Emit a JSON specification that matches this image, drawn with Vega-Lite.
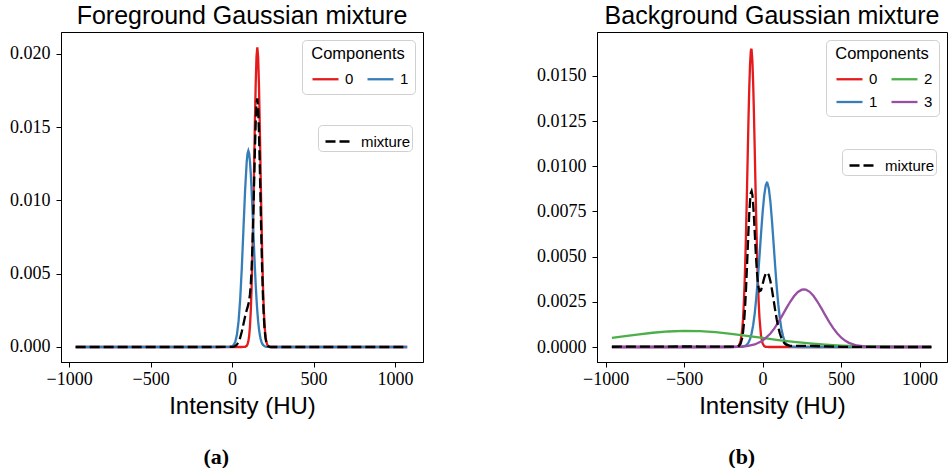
{
  "$schema": "https://vega.github.io/schema/vega-lite/v6.json",
  "padding": {"left": 9, "top": 3, "right": 0, "bottom": 0},
  "background": "white",
  "datasets": {
    "fg": [
      {"x": -960, "y": 0, "s": "0"}, {"x": 0, "y": 0, "s": "0"}, {"x": 50, "y": 0, "s": "0"}, {"x": 60, "y": 0, "s": "0"},
      {"x": 70, "y": 0.0000015, "s": "0"}, {"x": 80, "y": 0.0000125, "s": "0"}, {"x": 90, "y": 0.000079, "s": "0"}, {"x": 95, "y": 0.00018, "s": "0"},
      {"x": 100, "y": 0.000383, "s": "0"}, {"x": 105, "y": 0.000764, "s": "0"}, {"x": 110, "y": 0.001426, "s": "0"}, {"x": 115, "y": 0.002496, "s": "0"},
      {"x": 120, "y": 0.004086, "s": "0"}, {"x": 125, "y": 0.006265, "s": "0"}, {"x": 130, "y": 0.008994, "s": "0"}, {"x": 135, "y": 0.012092, "s": "0"},
      {"x": 140, "y": 0.01522, "s": "0"}, {"x": 145, "y": 0.017939, "s": "0"}, {"x": 150, "y": 0.019799, "s": "0"}, {"x": 155, "y": 0.02046, "s": "0"},
      {"x": 160, "y": 0.019799, "s": "0"}, {"x": 165, "y": 0.017939, "s": "0"}, {"x": 170, "y": 0.01522, "s": "0"}, {"x": 175, "y": 0.012092, "s": "0"},
      {"x": 180, "y": 0.008994, "s": "0"}, {"x": 185, "y": 0.006265, "s": "0"}, {"x": 190, "y": 0.004086, "s": "0"}, {"x": 195, "y": 0.002496, "s": "0"},
      {"x": 200, "y": 0.001426, "s": "0"}, {"x": 205, "y": 0.000764, "s": "0"}, {"x": 210, "y": 0.000383, "s": "0"}, {"x": 215, "y": 0.00018, "s": "0"},
      {"x": 220, "y": 0.000079, "s": "0"}, {"x": 230, "y": 0.0000125, "s": "0"}, {"x": 240, "y": 0, "s": "0"}, {"x": 300, "y": 0, "s": "0"}, {"x": 1075, "y": 0, "s": "0"},

      {"x": -960, "y": 0, "s": "1"}, {"x": -500, "y": 0, "s": "1"}, {"x": -200, "y": 0, "s": "1"}, {"x": -20, "y": 0.000004, "s": "1"},
      {"x": 0, "y": 0.000048, "s": "1"}, {"x": 10, "y": 0.00014, "s": "1"}, {"x": 20, "y": 0.000365, "s": "1"}, {"x": 30, "y": 0.000849, "s": "1"},
      {"x": 40, "y": 0.001765, "s": "1"}, {"x": 50, "y": 0.003277, "s": "1"}, {"x": 60, "y": 0.005439, "s": "1"}, {"x": 70, "y": 0.008068, "s": "1"},
      {"x": 80, "y": 0.010691, "s": "1"}, {"x": 90, "y": 0.012657, "s": "1"}, {"x": 95, "y": 0.013203, "s": "1"}, {"x": 100, "y": 0.01339, "s": "1"},
      {"x": 105, "y": 0.013203, "s": "1"}, {"x": 110, "y": 0.012657, "s": "1"}, {"x": 115, "y": 0.011797, "s": "1"}, {"x": 120, "y": 0.010691, "s": "1"},
      {"x": 125, "y": 0.009418, "s": "1"}, {"x": 130, "y": 0.008068, "s": "1"}, {"x": 135, "y": 0.006718, "s": "1"}, {"x": 140, "y": 0.005439, "s": "1"},
      {"x": 145, "y": 0.004282, "s": "1"}, {"x": 150, "y": 0.003277, "s": "1"}, {"x": 155, "y": 0.002438, "s": "1"}, {"x": 160, "y": 0.001765, "s": "1"},
      {"x": 165, "y": 0.001241, "s": "1"}, {"x": 170, "y": 0.000849, "s": "1"}, {"x": 175, "y": 0.000564, "s": "1"}, {"x": 180, "y": 0.000365, "s": "1"},
      {"x": 185, "y": 0.000229, "s": "1"}, {"x": 190, "y": 0.00014, "s": "1"}, {"x": 200, "y": 0.000048, "s": "1"}, {"x": 210, "y": 0.000015, "s": "1"},
      {"x": 220, "y": 0.0000035, "s": "1"}, {"x": 240, "y": 0, "s": "1"}, {"x": 1075, "y": 0, "s": "1"},

      {"x": -960, "y": 0, "s": "mixture"}, {"x": -500, "y": 0, "s": "mixture"}, {"x": -100, "y": 0, "s": "mixture"}, {"x": -20, "y": 0.000001, "s": "mixture"},
      {"x": 0, "y": 0.0000093, "s": "mixture"}, {"x": 10, "y": 0.0000272, "s": "mixture"}, {"x": 20, "y": 0.0000708, "s": "mixture"}, {"x": 30, "y": 0.000165, "s": "mixture"},
      {"x": 40, "y": 0.000342, "s": "mixture"}, {"x": 50, "y": 0.000636, "s": "mixture"}, {"x": 60, "y": 0.001055, "s": "mixture"}, {"x": 70, "y": 0.001566, "s": "mixture"},
      {"x": 80, "y": 0.002084, "s": "mixture"}, {"x": 90, "y": 0.002519, "s": "mixture"}, {"x": 95, "y": 0.002706, "s": "mixture"}, {"x": 100, "y": 0.002907, "s": "mixture"},
      {"x": 105, "y": 0.003177, "s": "mixture"}, {"x": 110, "y": 0.003604, "s": "mixture"}, {"x": 115, "y": 0.004301, "s": "mixture"}, {"x": 120, "y": 0.005367, "s": "mixture"},
      {"x": 125, "y": 0.006877, "s": "mixture"}, {"x": 130, "y": 0.008814, "s": "mixture"}, {"x": 135, "y": 0.011049, "s": "mixture"}, {"x": 140, "y": 0.013322, "s": "mixture"},
      {"x": 145, "y": 0.01529, "s": "mixture"}, {"x": 150, "y": 0.016594, "s": "mixture"}, {"x": 155, "y": 0.016964, "s": "mixture"}, {"x": 160, "y": 0.0163, "s": "mixture"},
      {"x": 165, "y": 0.0147, "s": "mixture"}, {"x": 170, "y": 0.012432, "s": "mixture"}, {"x": 175, "y": 0.009855, "s": "mixture"}, {"x": 180, "y": 0.00732, "s": "mixture"},
      {"x": 185, "y": 0.005094, "s": "mixture"}, {"x": 190, "y": 0.00332, "s": "mixture"}, {"x": 195, "y": 0.002028, "s": "mixture"}, {"x": 200, "y": 0.001158, "s": "mixture"},
      {"x": 205, "y": 0.000621, "s": "mixture"}, {"x": 210, "y": 0.000312, "s": "mixture"}, {"x": 215, "y": 0.000147, "s": "mixture"}, {"x": 220, "y": 0.000064, "s": "mixture"},
      {"x": 230, "y": 0.00001, "s": "mixture"}, {"x": 240, "y": 0, "s": "mixture"}, {"x": 300, "y": 0, "s": "mixture"}, {"x": 1075, "y": 0, "s": "mixture"}
    ],
    "bg": [
      {"x": -960, "y": 0, "s": "0"}, {"x": -300, "y": 0, "s": "0"}, {"x": -200, "y": 0, "s": "0"}, {"x": -175, "y": 0.000002, "s": "0"},
      {"x": -160, "y": 0.000022, "s": "0"}, {"x": -150, "y": 0.000092, "s": "0"}, {"x": -140, "y": 0.000318, "s": "0"}, {"x": -130, "y": 0.000934, "s": "0"},
      {"x": -125, "y": 0.0015, "s": "0"}, {"x": -120, "y": 0.002308, "s": "0"}, {"x": -115, "y": 0.003404, "s": "0"}, {"x": -110, "y": 0.00481, "s": "0"},
      {"x": -105, "y": 0.006513, "s": "0"}, {"x": -100, "y": 0.00845, "s": "0"}, {"x": -95, "y": 0.010504, "s": "0"}, {"x": -90, "y": 0.012514, "s": "0"},
      {"x": -85, "y": 0.014282, "s": "0"}, {"x": -80, "y": 0.015622, "s": "0"}, {"x": -75, "y": 0.016373, "s": "0"}, {"x": -72, "y": 0.0165, "s": "0"},
      {"x": -70, "y": 0.016444, "s": "0"}, {"x": -65, "y": 0.015824, "s": "0"}, {"x": -60, "y": 0.014591, "s": "0"}, {"x": -55, "y": 0.012893, "s": "0"},
      {"x": -50, "y": 0.010915, "s": "0"}, {"x": -45, "y": 0.008856, "s": "0"}, {"x": -40, "y": 0.006884, "s": "0"}, {"x": -35, "y": 0.005127, "s": "0"},
      {"x": -30, "y": 0.00366, "s": "0"}, {"x": -25, "y": 0.002503, "s": "0"}, {"x": -20, "y": 0.00164, "s": "0"}, {"x": -10, "y": 0.00062, "s": "0"},
      {"x": 0, "y": 0.000197, "s": "0"}, {"x": 10, "y": 0.000053, "s": "0"}, {"x": 20, "y": 0.000012, "s": "0"}, {"x": 30, "y": 0.000002, "s": "0"},
      {"x": 40, "y": 0, "s": "0"}, {"x": 100, "y": 0, "s": "0"}, {"x": 1075, "y": 0, "s": "0"},

      {"x": -960, "y": 0, "s": "1"}, {"x": -300, "y": 0, "s": "1"}, {"x": -200, "y": 0, "s": "1"}, {"x": -150, "y": 0.000002, "s": "1"},
      {"x": -130, "y": 0.000014, "s": "1"}, {"x": -120, "y": 0.00003, "s": "1"}, {"x": -110, "y": 0.000064, "s": "1"}, {"x": -100, "y": 0.000127, "s": "1"},
      {"x": -90, "y": 0.000242, "s": "1"}, {"x": -80, "y": 0.000435, "s": "1"}, {"x": -70, "y": 0.000744, "s": "1"}, {"x": -60, "y": 0.001209, "s": "1"},
      {"x": -50, "y": 0.001864, "s": "1"}, {"x": -40, "y": 0.002727, "s": "1"}, {"x": -30, "y": 0.003787, "s": "1"}, {"x": -20, "y": 0.004992, "s": "1"},
      {"x": -10, "y": 0.006246, "s": "1"}, {"x": 0, "y": 0.007418, "s": "1"}, {"x": 10, "y": 0.008363, "s": "1"}, {"x": 20, "y": 0.00895, "s": "1"},
      {"x": 28, "y": 0.0091, "s": "1"}, {"x": 30, "y": 0.009091, "s": "1"}, {"x": 40, "y": 0.008765, "s": "1"}, {"x": 50, "y": 0.008022, "s": "1"},
      {"x": 60, "y": 0.006969, "s": "1"}, {"x": 70, "y": 0.005746, "s": "1"}, {"x": 80, "y": 0.004498, "s": "1"}, {"x": 90, "y": 0.003342, "s": "1"},
      {"x": 100, "y": 0.002357, "s": "1"}, {"x": 110, "y": 0.001578, "s": "1"}, {"x": 120, "y": 0.001002, "s": "1"}, {"x": 130, "y": 0.000604, "s": "1"},
      {"x": 140, "y": 0.000346, "s": "1"}, {"x": 150, "y": 0.000188, "s": "1"}, {"x": 175, "y": 0.000033, "s": "1"}, {"x": 200, "y": 0.000004, "s": "1"},
      {"x": 250, "y": 0, "s": "1"}, {"x": 1075, "y": 0, "s": "1"},

      {"x": -960, "y": 0.000501, "s": "2"}, {"x": -900, "y": 0.000574, "s": "2"}, {"x": -800, "y": 0.00069, "s": "2"}, {"x": -700, "y": 0.000789, "s": "2"},
      {"x": -600, "y": 0.000859, "s": "2"}, {"x": -500, "y": 0.000889, "s": "2"}, {"x": -400, "y": 0.000876, "s": "2"}, {"x": -300, "y": 0.000821, "s": "2"},
      {"x": -200, "y": 0.000732, "s": "2"}, {"x": -100, "y": 0.000621, "s": "2"}, {"x": 0, "y": 0.000501, "s": "2"}, {"x": 100, "y": 0.000385, "s": "2"},
      {"x": 200, "y": 0.000281, "s": "2"}, {"x": 300, "y": 0.000196, "s": "2"}, {"x": 400, "y": 0.000129, "s": "2"}, {"x": 500, "y": 0.000081, "s": "2"},
      {"x": 600, "y": 0.000049, "s": "2"}, {"x": 700, "y": 0.000028, "s": "2"}, {"x": 800, "y": 0.000015, "s": "2"}, {"x": 900, "y": 0.000008, "s": "2"},
      {"x": 1075, "y": 0.000002, "s": "2"},

      {"x": -960, "y": 0, "s": "3"}, {"x": -400, "y": 0, "s": "3"}, {"x": -200, "y": 0.000003, "s": "3"}, {"x": -150, "y": 0.000014, "s": "3"},
      {"x": -100, "y": 0.000047, "s": "3"}, {"x": -50, "y": 0.000139, "s": "3"}, {"x": 0, "y": 0.000349, "s": "3"}, {"x": 50, "y": 0.000747, "s": "3"},
      {"x": 75, "y": 0.001029, "s": "3"}, {"x": 100, "y": 0.001363, "s": "3"}, {"x": 125, "y": 0.001734, "s": "3"}, {"x": 150, "y": 0.00212, "s": "3"},
      {"x": 175, "y": 0.00249, "s": "3"}, {"x": 200, "y": 0.002809, "s": "3"}, {"x": 225, "y": 0.003046, "s": "3"}, {"x": 250, "y": 0.003173, "s": "3"},
      {"x": 263, "y": 0.00319, "s": "3"}, {"x": 275, "y": 0.003175, "s": "3"}, {"x": 300, "y": 0.003053, "s": "3"}, {"x": 325, "y": 0.002821, "s": "3"},
      {"x": 350, "y": 0.002504, "s": "3"}, {"x": 375, "y": 0.002135, "s": "3"}, {"x": 400, "y": 0.00175, "s": "3"}, {"x": 425, "y": 0.001377, "s": "3"},
      {"x": 450, "y": 0.001042, "s": "3"}, {"x": 475, "y": 0.000757, "s": "3"}, {"x": 500, "y": 0.000529, "s": "3"}, {"x": 525, "y": 0.000355, "s": "3"},
      {"x": 550, "y": 0.000229, "s": "3"}, {"x": 600, "y": 0.000084, "s": "3"}, {"x": 650, "y": 0.000027, "s": "3"}, {"x": 700, "y": 0.000007, "s": "3"},
      {"x": 800, "y": 0, "s": "3"}, {"x": 1075, "y": 0, "s": "3"},

      {"x": -960, "y": 0.000015, "s": "mixture"}, {"x": -900, "y": 0.0000172, "s": "mixture"}, {"x": -800, "y": 0.0000207, "s": "mixture"}, {"x": -700, "y": 0.0000237, "s": "mixture"},
      {"x": -600, "y": 0.0000258, "s": "mixture"}, {"x": -500, "y": 0.0000267, "s": "mixture"}, {"x": -400, "y": 0.0000263, "s": "mixture"}, {"x": -300, "y": 0.0000246, "s": "mixture"},
      {"x": -200, "y": 0.000022, "s": "mixture"}, {"x": -175, "y": 0.000022, "s": "mixture"}, {"x": -160, "y": 0.000032, "s": "mixture"}, {"x": -150, "y": 0.000068, "s": "mixture"},
      {"x": -140, "y": 0.000183, "s": "mixture"}, {"x": -130, "y": 0.000496, "s": "mixture"}, {"x": -125, "y": 0.000784, "s": "mixture"}, {"x": -120, "y": 0.001194, "s": "mixture"},
      {"x": -115, "y": 0.001752, "s": "mixture"}, {"x": -110, "y": 0.002467, "s": "mixture"}, {"x": -105, "y": 0.003336, "s": "mixture"}, {"x": -100, "y": 0.004326, "s": "mixture"},
      {"x": -95, "y": 0.005383, "s": "mixture"}, {"x": -90, "y": 0.006422, "s": "mixture"}, {"x": -85, "y": 0.007351, "s": "mixture"}, {"x": -80, "y": 0.008072, "s": "mixture"},
      {"x": -75, "y": 0.008515, "s": "mixture"}, {"x": -70, "y": 0.008624, "s": "mixture"}, {"x": -65, "y": 0.00841, "s": "mixture"}, {"x": -60, "y": 0.007901, "s": "mixture"},
      {"x": -55, "y": 0.007187, "s": "mixture"}, {"x": -50, "y": 0.006347, "s": "mixture"}, {"x": -45, "y": 0.005499, "s": "mixture"}, {"x": -40, "y": 0.004708, "s": "mixture"},
      {"x": -35, "y": 0.004054, "s": "mixture"}, {"x": -30, "y": 0.003562, "s": "mixture"}, {"x": -25, "y": 0.003247, "s": "mixture"}, {"x": -20, "y": 0.003088, "s": "mixture"},
      {"x": -10, "y": 0.003145, "s": "mixture"}, {"x": 0, "y": 0.003458, "s": "mixture"}, {"x": 10, "y": 0.003812, "s": "mixture"}, {"x": 20, "y": 0.004057, "s": "mixture"},
      {"x": 30, "y": 0.004116, "s": "mixture"}, {"x": 40, "y": 0.003969, "s": "mixture"}, {"x": 50, "y": 0.003637, "s": "mixture"}, {"x": 60, "y": 0.003164, "s": "mixture"},
      {"x": 70, "y": 0.002615, "s": "mixture"}, {"x": 80, "y": 0.002055, "s": "mixture"}, {"x": 90, "y": 0.001537, "s": "mixture"}, {"x": 100, "y": 0.001096, "s": "mixture"},
      {"x": 110, "y": 0.000746, "s": "mixture"}, {"x": 120, "y": 0.00049, "s": "mixture"}, {"x": 130, "y": 0.000313, "s": "mixture"}, {"x": 140, "y": 0.000199, "s": "mixture"},
      {"x": 150, "y": 0.000131, "s": "mixture"}, {"x": 175, "y": 0.0000664, "s": "mixture"}, {"x": 200, "y": 0.000058, "s": "mixture"}, {"x": 250, "y": 0.000061, "s": "mixture"},
      {"x": 300, "y": 0.000058, "s": "mixture"}, {"x": 400, "y": 0.000034, "s": "mixture"}, {"x": 500, "y": 0.0000114, "s": "mixture"}, {"x": 600, "y": 0.000003, "s": "mixture"},
      {"x": 800, "y": 0.0000005, "s": "mixture"}, {"x": 1075, "y": 0, "s": "mixture"}
    ]
  },
  "config": {
    "view": {"stroke": "black", "strokeWidth": 1},
    "axis": {
      "grid": false, "domainColor": "black", "tickColor": "black", "tickSize": 5,
      "labelFont": "Liberation Serif", "labelFontSize": 18, "labelColor": "black", "labelPadding": 6,
      "titleFont": "Liberation Sans", "titleFontSize": 24, "titleFontWeight": "normal", "titleColor": "black"
    },
    "axisX": {"labelPadding": 3},
    "legend": {
      "titleFont": "Liberation Sans", "titleFontSize": 16.5, "titleFontWeight": "normal", "titleColor": "black",
      "titleAnchor": "middle", "titlePadding": 2,
      "labelFont": "Liberation Sans", "labelFontSize": 15, "labelColor": "black",
      "strokeColor": "#d0d0d0", "fillColor": "white", "cornerRadius": 4, "padding": 6,
      "symbolType": "stroke", "symbolSize": 676, "symbolStrokeWidth": 2.3, "symbolOffset": 3,
      "columnPadding": 8, "labelOffset": 5, "rowPadding": 0
    }
  },
  "resolve": {
    "scale": {"x": "independent", "y": "independent", "color": "independent", "strokeDash": "independent"},
    "legend": {"color": "independent", "strokeDash": "independent"}
  },
  "spacing": 112,
  "hconcat": [
    {
      "title": {"text": "(a)", "orient": "bottom", "anchor": "middle", "frame": "bounds", "font": "Liberation Serif", "fontWeight": "bold", "fontSize": 22, "color": "black", "offset": 28},
      "resolve": {"scale": {"color": "independent", "strokeDash": "independent"}, "legend": {"color": "independent", "strokeDash": "independent"}},
      "vconcat": [
        {
          "width": 362, "height": 330,
          "title": {"text": "Foreground Gaussian mixture", "font": "Liberation Sans", "fontSize": 25, "fontWeight": "normal", "color": "black", "anchor": "middle", "frame": "group", "offset": 3},
          "data": {"name": "fg"},
          "layer": [
            {
              "transform": [{"filter": "datum.s !== 'mixture'"}],
              "mark": {"type": "line", "strokeWidth": 2.3},
              "encoding": {
                "x": {"field": "x", "type": "quantitative", "scale": {"domain": [-1050, 1172], "nice": false, "zero": false}, "axis": {"values": [-1000, -500, 0, 500, 1000], "format": "d", "title": "Intensity (HU)", "titlePadding": 6}},
                "y": {"field": "y", "type": "quantitative", "scale": {"domain": [-0.001025, 0.0215], "nice": false, "zero": false}, "axis": {"values": [0, 0.005, 0.01, 0.015, 0.02], "format": ".3f", "title": null}},
                "color": {"field": "s", "type": "nominal", "scale": {"domain": ["0", "1"], "range": ["#e41a1c", "#377eb8"]}, "legend": {"title": "Components", "orient": "top-right", "offset": 8, "columns": 2}}
              }
            },
            {
              "transform": [{"filter": "datum.s === 'mixture'"}],
              "mark": {"type": "line", "strokeWidth": 2.3, "color": "black"},
              "encoding": {
                "x": {"field": "x", "type": "quantitative"},
                "y": {"field": "y", "type": "quantitative"},
                "strokeDash": {"field": "s", "type": "nominal", "scale": {"domain": ["mixture"], "range": [[10, 4]]}, "legend": {"title": null, "orient": "none", "legendX": 257, "legendY": 93, "padding": 1, "symbolSize": 784, "symbolOffset": 5, "labelOffset": 6, "labelExpr": "datum.label + '\u00a0\u00a0'", "symbolStrokeColor": "black"}}
              }
            }
          ]
        }
      ]
    },
    {
      "title": {"text": "(b)", "orient": "bottom", "anchor": "middle", "frame": "bounds", "font": "Liberation Serif", "fontWeight": "bold", "fontSize": 22, "color": "black", "offset": 28},
      "resolve": {"scale": {"color": "independent", "strokeDash": "independent"}, "legend": {"color": "independent", "strokeDash": "independent"}},
      "vconcat": [
        {
          "width": 350, "height": 330,
          "title": {"text": "Background Gaussian mixture", "font": "Liberation Sans", "fontSize": 25, "fontWeight": "normal", "color": "black", "anchor": "middle", "frame": "group", "offset": 3},
          "data": {"name": "bg"},
          "layer": [
            {
              "transform": [{"filter": "datum.s !== 'mixture'"}],
              "mark": {"type": "line", "strokeWidth": 2.3},
              "encoding": {
                "x": {"field": "x", "type": "quantitative", "scale": {"domain": [-1055, 1175], "nice": false, "zero": false}, "axis": {"values": [-1000, -500, 0, 500, 1000], "format": "d", "title": "Intensity (HU)", "titlePadding": 6}},
                "y": {"field": "y", "type": "quantitative", "scale": {"domain": [-0.00083, 0.01743], "nice": false, "zero": false}, "axis": {"values": [0, 0.0025, 0.005, 0.0075, 0.01, 0.0125, 0.015], "format": ".4f", "title": null}},
                "color": {"field": "s", "type": "nominal", "scale": {"domain": ["0", "1", "2", "3"], "range": ["#e41a1c", "#377eb8", "#4daf4a", "#984ea3"]}, "legend": {"title": "Components", "orient": "top-right", "offset": 8, "columns": 2}}
              }
            },
            {
              "transform": [{"filter": "datum.s === 'mixture'"}],
              "mark": {"type": "line", "strokeWidth": 2.3, "color": "black"},
              "encoding": {
                "x": {"field": "x", "type": "quantitative"},
                "y": {"field": "y", "type": "quantitative"},
                "strokeDash": {"field": "s", "type": "nominal", "scale": {"domain": ["mixture"], "range": [[10, 4]]}, "legend": {"title": null, "orient": "none", "legendX": 245, "legendY": 117, "padding": 1, "symbolSize": 784, "symbolOffset": 5, "labelOffset": 6, "labelExpr": "datum.label + '\u00a0\u00a0'", "symbolStrokeColor": "black"}}
              }
            }
          ]
        }
      ]
    }
  ]
}
